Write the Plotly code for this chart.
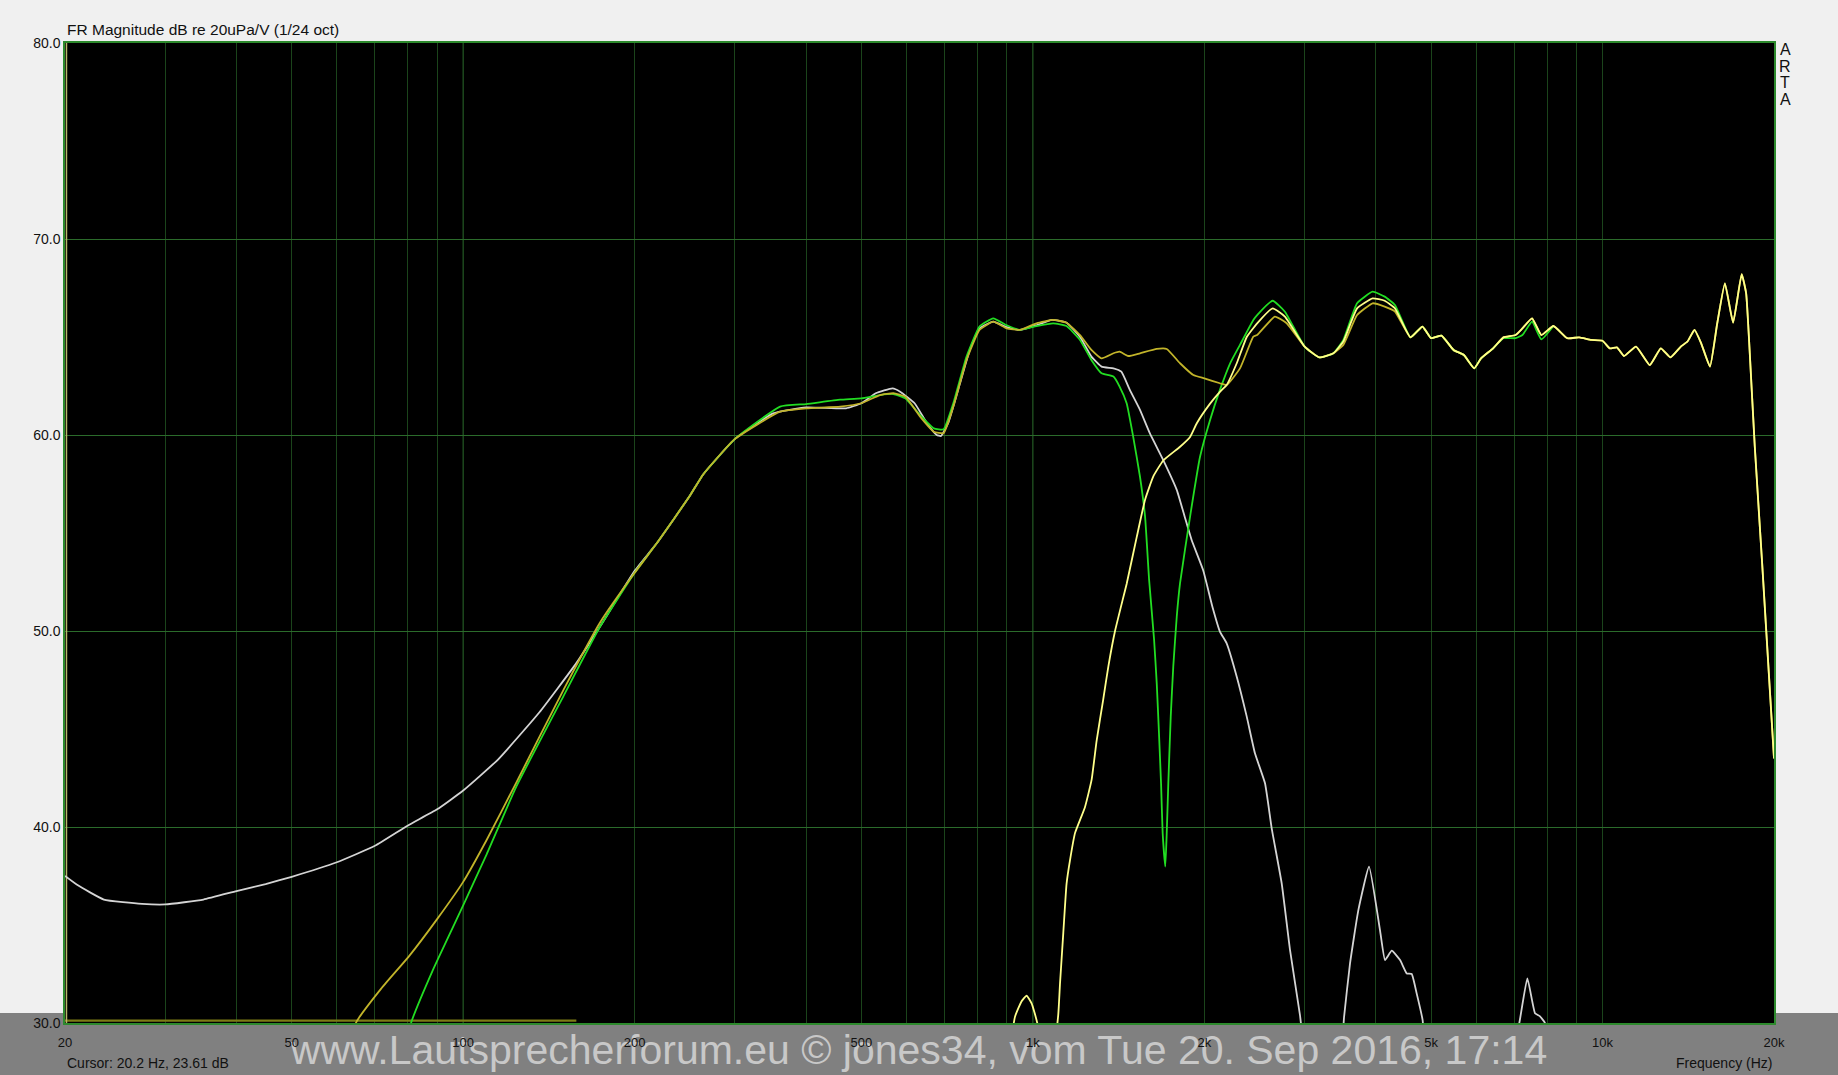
import math
import plotly.graph_objects as go

# ---------------- data ----------------
# Woofer alone (white / light grey)
woofer_f = [20, 21, 23.4, 27.3, 30, 35, 40, 45, 50, 60, 70, 80, 90, 100, 115, 136, 158, 174, 200, 219,
            250, 264, 300, 350, 400, 470, 500, 530, 567, 585, 620, 652, 678, 690, 710, 745, 775, 806,
            852, 900, 949, 1015, 1080, 1146, 1210, 1267, 1320, 1385, 1430, 1480, 1542, 1605, 1694,
            1789, 1847, 1900, 1990, 2068, 2130, 2189, 2280, 2374, 2454, 2556, 2626, 2734, 2828, 2944,
            3050, 3400, 3518, 3604, 3728, 3892, 4068, 4152, 4266, 4412, 4532, 4624, 4718, 4833, 4950,
            6500, 7144, 7380, 7612, 7750, 7926, 8100, 9000]
woofer_db = [37.5, 37.05, 36.3, 36.08, 36.05, 36.3, 36.73, 37.09, 37.46, 38.2, 39.04, 40.08, 40.9, 41.86,
             43.43, 45.84, 48.36, 50.24, 53.07, 54.5, 56.9, 58.0, 59.8, 61.1, 61.41, 61.36, 61.62, 62.13,
             62.38, 62.21, 61.62, 60.6, 60.0, 59.95, 60.6, 62.64, 64.34, 65.44, 65.78, 65.5, 65.36, 65.6,
             65.87, 65.73, 65.0, 64.0, 63.49, 63.4, 63.23, 62.3, 61.28, 60.08, 58.72, 57.2, 55.84, 54.64,
             53.11, 51.2, 49.97, 49.37, 47.67, 45.63, 43.76, 42.23, 39.93, 37.13, 33.72, 30.4,
             27.0, 25.0, 30.3, 33.04, 35.77, 37.98, 34.74, 33.21, 33.69, 33.21, 32.53, 32.5, 31.51, 30.15,
             27.0, 25.0, 30.0, 32.28, 30.5, 30.36, 30.0, 27.0, 25.0]

# Tweeter alone (light yellow)
tweeter_f = [880, 930, 955, 975, 995, 1018, 1060, 1108, 1116, 1131, 1146, 1162, 1186, 1234, 1268, 1294,
             1329, 1357, 1394, 1438, 1461, 1522, 1574, 1628, 1694, 1813, 1888, 1940, 2047, 2130, 2189,
             2280, 2374, 2476, 2636, 2770, 3000, 3182, 3370, 3508, 3708, 3948, 4146, 4322]
tweeter_db = [25.0, 30.3, 31.1, 31.4, 31.0, 30.0, 26.0, 30.4, 32.0, 34.6, 37.1, 38.3, 39.7, 41.0, 42.4,
              44.4, 46.5, 48.2, 50.0, 51.6, 52.4, 54.8, 56.7, 57.9, 58.7, 59.4, 59.9, 60.6, 61.6, 62.2,
              62.55, 63.66, 65.0, 65.7, 66.46, 66.04, 64.51, 63.96, 64.17, 64.77, 66.46, 66.97, 66.85,
              66.46]

# Common high-frequency part (all summed curves follow the tweeter here)
hf_f = [4602, 4830, 5000, 5216, 5476, 5710, 5954, 6120, 6426, 6700, 7036, 7234, 7522, 7810, 8200, 8668,
        9100, 9552, 10000, 10300, 10600, 10906, 11450, 12106, 12656, 13160, 13724, 14100, 14502, 14900,
        15440, 15900, 16400, 16952, 17550, 17870, 18122, 18506, 19060, 20000]
hf_db = [64.98, 65.53, 64.94, 65.07, 64.34, 64.08, 63.4, 63.91, 64.42, 64.98, 65.1, 65.44, 65.95, 65.1,
         65.56, 64.94, 64.98, 64.85, 64.81, 64.42, 64.47, 64.03, 64.51, 63.57, 64.42, 63.96, 64.51, 64.77,
         65.36, 64.68, 63.49, 65.7, 67.74, 65.73, 68.21, 67.23, 64.34, 59.4, 53.5, 43.5]

# Sum, reversed polarity (green, with notch)
sum_rev_f = [75, 81, 88.3, 100, 110, 124, 150, 174, 200, 219, 250, 264, 300, 360, 400, 459, 500, 539,
             569, 597, 634, 670, 697, 725, 765, 806, 852, 900, 949, 1015, 1086, 1146, 1210, 1267, 1320,
             1385, 1420, 1461, 1500, 1542, 1574, 1600, 1632, 1650, 1665, 1679, 1690, 1708, 1718, 1729,
             1746, 1764, 1789, 1813, 1888, 1966, 2047, 2130, 2220, 2310, 2438, 2476, 2636, 2770, 3000,
             3182, 3370, 3508, 3708, 3948, 4146, 4322,
             4602, 4830, 5000, 5216, 5476, 5710, 5954, 6120, 6426, 6700, 7036, 7234, 7522, 7810, 8200]
sum_rev_db = [25.0, 30.0, 32.65, 36.0, 38.62, 42.07, 46.68, 50.24, 52.97, 54.5, 56.9, 58.0, 59.8, 61.45,
              61.58, 61.8, 61.87, 62.04, 62.09, 61.87, 61.02, 60.34, 60.29, 61.62, 64.0, 65.53, 65.95,
              65.6, 65.36, 65.56, 65.7, 65.56, 64.85, 63.83, 63.15, 62.98, 62.47, 61.62, 59.92, 57.87,
              55.84, 52.6, 49.6, 47.33, 44.78, 42.23, 39.68, 37.98, 39.68, 42.23, 45.63, 48.18, 50.73,
              52.44, 55.84, 58.9, 60.77, 62.3, 63.66, 64.6, 65.87, 66.12, 66.85, 66.29, 64.51, 63.96,
              64.17, 64.85, 66.72, 67.31, 67.06, 66.63,
              64.98, 65.53, 64.94, 65.07, 64.34, 64.08, 63.4, 63.91, 64.42, 64.94, 64.94, 65.1, 65.78,
              64.88, 65.56]

# Sum, in phase (dark yellow)
sum_f = [60, 64.8, 72, 80.3, 90, 100, 110, 124, 150, 174, 200, 219, 250, 264, 300, 360, 400, 459, 500,
         539, 569, 597, 634, 670, 697, 725, 765, 806, 852, 900, 949, 1015, 1086, 1146, 1210, 1267, 1320,
         1385, 1420, 1470, 1542, 1650, 1718, 1813, 1913, 2000, 2130, 2189, 2310, 2438, 2476, 2660, 2790,
         3000, 3182, 3370, 3508, 3708, 3948, 4146, 4322]
sum_db = [25.0, 30.0, 31.8, 33.4, 35.3, 37.2, 39.35, 42.28, 47.0, 50.45, 52.97, 54.5, 56.9, 58.0, 59.8,
          61.19, 61.36, 61.45, 61.62, 62.04, 62.13, 61.96, 60.94, 60.17, 60.09, 61.45, 63.83, 65.36,
          65.78, 65.44, 65.36, 65.7, 65.87, 65.73, 65.1, 64.34, 63.91, 64.17, 64.25, 64.03, 64.17, 64.39,
          64.39, 63.66, 63.06, 62.89, 62.64, 62.55, 63.4, 65.02, 65.1, 66.04, 65.7, 64.51, 63.96, 64.17,
          64.6, 66.12, 66.72, 66.55, 66.3]

# Floor trace along the bottom and the vertical trace at the left edge
floor_f = [20, 158]
floor_db = [30.12, 30.12]
edge_f = [20.12, 20.12]
edge_db = [30, 80]

grid_f = [20, 30, 40, 50, 60, 70, 80, 90, 100, 200, 300, 400, 500, 600, 700, 800, 900, 1000,
          2000, 3000, 4000, 5000, 6000, 7000, 8000, 9000, 10000, 20000]
labels = {20: "20", 50: "50", 100: "100", 200: "200", 500: "500", 1000: "1k", 2000: "2k",
          5000: "5k", 10000: "10k", 20000: "20k"}
major_f = [100, 1000, 10000]
y_ticks = [30, 40, 50, 60, 70, 80]

WATERMARK = "www.Lautsprecherforum.eu \u00a9 jones34, vom Tue 20. Sep 2016, 17:14"

# ---------------- figure ----------------
W, H = 1838, 1075
L, R, T, B = 65, 64, 43, 52
pw, ph = W - L - R, H - T - B

FONT = "Liberation Sans, Arial, sans-serif"
SMOOTH = dict(shape="spline", smoothing=0.4)


def py(px):
    """pixel row (from top of page) -> paper y"""
    return (H - B - px) / ph


def px_(px):
    """pixel column -> paper x"""
    return (px - L) / pw


fig = go.Figure()

fig.add_trace(go.Scatter(x=floor_f, y=floor_db, mode="lines",
                         line=dict(color="#7c7c14", width=2.2), hoverinfo="skip"))
fig.add_trace(go.Scatter(x=edge_f, y=edge_db, mode="lines",
                         line=dict(color="#b9b96a", width=1.5), hoverinfo="skip"))
fig.add_trace(go.Scatter(x=woofer_f, y=woofer_db, mode="lines",
                         line=dict(color="#d4d4d4", width=1.8, **SMOOTH), name="woofer"))
fig.add_trace(go.Scatter(x=sum_rev_f, y=sum_rev_db, mode="lines",
                         line=dict(color="#22dd22", width=1.8, **SMOOTH), name="sum inv"))
fig.add_trace(go.Scatter(x=sum_f + hf_f, y=sum_db + hf_db, mode="lines",
                         line=dict(color="#c2b42a", width=1.8, **SMOOTH), name="sum"))
fig.add_trace(go.Scatter(x=tweeter_f + hf_f, y=tweeter_db + hf_db, mode="lines",
                         line=dict(color="#ffff8a", width=1.8, **SMOOTH), name="tweeter"))

shapes = []
# grey band at the bottom of the window
shapes.append(dict(type="rect", xref="paper", yref="paper", x0=-L / pw, x1=1 + R / pw,
                   y0=py(H + 10), y1=py(1013), fillcolor="#808080", line=dict(width=0),
                   layer="below"))
shapes.append(dict(type="rect", xref="paper", yref="paper", x0=0, x1=1, y0=0, y1=py(1013),
                   fillcolor="black", line=dict(width=0), layer="below"))
# watermark (below the axis labels)
shapes.append(dict(type="rect", xref="paper", yref="paper", x0=px_(919 - 700), x1=px_(919 + 700),
                   y0=py(1066), y1=py(1026), fillcolor="rgba(0,0,0,0)", line=dict(width=0),
                   layer="below",
                   label=dict(text=WATERMARK, textposition="middle center",
                              font=dict(family=FONT, size=41, color="#c8c8c8"))))
# brighter decade grid lines
for f in major_f:
    shapes.append(dict(type="line", xref="x", yref="paper", x0=f, x1=f, y0=0, y1=1,
                       line=dict(color="#2e782e", width=1), layer="between"))

annotations = [
    dict(text="FR Magnitude dB re 20uPa/V (1/24 oct)", xref="paper", yref="paper",
         x=0, y=py(30), xanchor="left", yanchor="middle", showarrow=False,
         font=dict(family=FONT, size=15.5, color="#111111")),
    dict(text="Cursor: 20.2 Hz, 23.61 dB", xref="paper", yref="paper",
         x=0, y=py(1063), xanchor="left", yanchor="middle", showarrow=False,
         font=dict(family=FONT, size=14, color="#111111")),
    dict(text="Frequency (Hz)", xref="paper", yref="paper",
         x=1, y=py(1063), xanchor="right", yanchor="middle", showarrow=False,
         font=dict(family=FONT, size=14, color="#111111")),
]
for i, ch in enumerate("ARTA"):
    annotations.append(dict(text=ch, xref="paper", yref="paper", x=px_(1785),
                            y=py(50 + i * 16.4), xanchor="center", yanchor="middle",
                            showarrow=False, font=dict(family=FONT, size=16, color="#111111")))

fig.update_layout(
    width=W, height=H, margin=dict(l=L, r=R, t=T, b=B, pad=0),
    paper_bgcolor="#f0f0f0", plot_bgcolor="black", showlegend=False,
    font=dict(family=FONT, size=13, color="#111111"),
    shapes=shapes, annotations=annotations,
    xaxis=dict(type="log", range=[math.log10(20), math.log10(20000)],
               tickmode="array", tickvals=grid_f,
               ticktext=[labels.get(f, "") for f in grid_f],
               showgrid=True, gridcolor="#1b441b", gridwidth=1, ticks="",
               ticklabelstandoff=7,
               tickfont=dict(family=FONT, size=13, color="#111111"),
               showline=True, linecolor="#2d8a2d", linewidth=1.5, mirror=True, zeroline=False),
    yaxis=dict(range=[30, 80], tickmode="array", tickvals=y_ticks,
               ticktext=["%.1f" % v for v in y_ticks],
               showgrid=True, gridcolor="#2b6b2b", gridwidth=1, ticks="",
               tickfont=dict(family=FONT, size=14, color="#111111"),
               showline=True, linecolor="#2d8a2d", linewidth=1.5, mirror=True, zeroline=False),
)

fig.write_html("out.html", config={"displayModeBar": False},
               post_script="document.body.style.margin='0px';"
                           "document.body.style.padding='0px';")
